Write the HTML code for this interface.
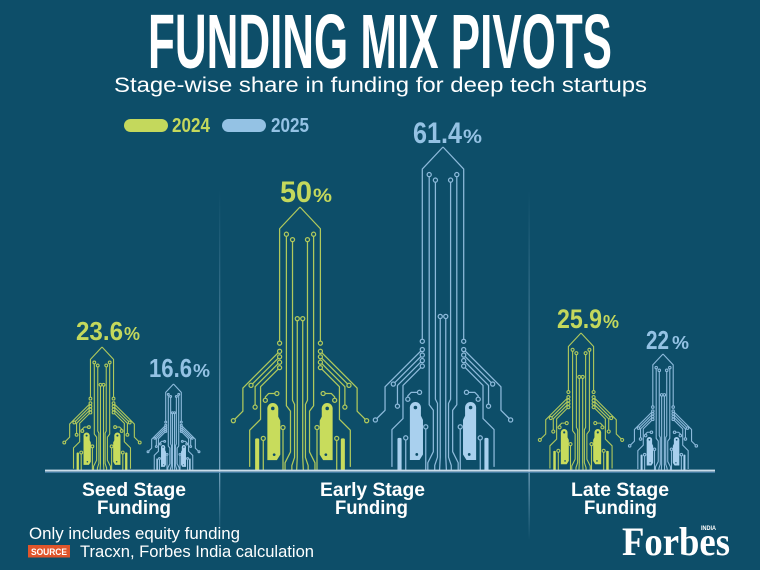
<!DOCTYPE html>
<html>
<head>
<meta charset="utf-8">
<style>
html,body{margin:0;padding:0;background:#0d4e69;}
svg{display:block;}
text{font-family:"Liberation Sans",sans-serif;}
</style>
</head>
<body>
<svg id="s" width="760" height="570" viewBox="0 0 760 570" xmlns="http://www.w3.org/2000/svg">
<defs>
<linearGradient id="dv" x1="0" y1="190" x2="0" y2="540" gradientUnits="userSpaceOnUse">
<stop offset="0" stop-color="#8cb6d2" stop-opacity="0"/>
<stop offset="0.8" stop-color="#9cc2dc" stop-opacity="0.75"/>
<stop offset="1" stop-color="#8cb6d2" stop-opacity="0"/>
</linearGradient>
</defs>
<rect width="760" height="570" fill="#0d4e69"/>

<!-- dividers -->
<rect x="219" y="190" width="1.3" height="350" fill="url(#dv)"/>
<rect x="528.5" y="190" width="1.3" height="350" fill="url(#dv)"/>

<!-- title -->
<text x="148" y="68" font-size="77" font-weight="bold" fill="#ffffff" textLength="464" lengthAdjust="spacingAndGlyphs">FUNDING MIX PIVOTS</text>
<text x="114" y="92" font-size="21.5" fill="#ffffff" textLength="533" lengthAdjust="spacingAndGlyphs">Stage-wise share in funding for deep tech startups</text>

<!-- legend -->
<rect x="124" y="119" width="44" height="13" rx="6.5" fill="#c4d85c"/>
<text x="172" y="132" font-size="20" font-weight="bold" fill="#c4d85c" textLength="38" lengthAdjust="spacingAndGlyphs">2024</text>
<rect x="222" y="119" width="44" height="13" rx="6.5" fill="#94c2e4"/>
<text x="271" y="132" font-size="20" font-weight="bold" fill="#94c2e4" textLength="38" lengthAdjust="spacingAndGlyphs">2025</text>

<g id="rockets"></g>

<!-- baseline -->
<rect x="45" y="469.6" width="670" height="2" fill="#cadcea"/>
<rect x="45" y="471.8" width="670" height="1" fill="#4f86b0"/>

<!-- value labels -->
<text x="76" y="340" font-size="26" font-weight="bold" fill="#c4d85c" textLength="47" lengthAdjust="spacingAndGlyphs">23.6</text>
<text x="124" y="340" font-size="18" font-weight="bold" fill="#c4d85c" textLength="16" lengthAdjust="spacingAndGlyphs">%</text>

<text x="149" y="377" font-size="26" font-weight="bold" fill="#94c2e4" textLength="43" lengthAdjust="spacingAndGlyphs">16.6</text>
<text x="193" y="377" font-size="18" font-weight="bold" fill="#94c2e4" textLength="17" lengthAdjust="spacingAndGlyphs">%</text>

<text x="280" y="202" font-size="30" font-weight="bold" fill="#c4d85c" textLength="32" lengthAdjust="spacingAndGlyphs">50</text>
<text x="313" y="202" font-size="19" font-weight="bold" fill="#c4d85c" textLength="19" lengthAdjust="spacingAndGlyphs">%</text>

<text x="413" y="143" font-size="30" font-weight="bold" fill="#94c2e4" textLength="49" lengthAdjust="spacingAndGlyphs">61.4</text>
<text x="463" y="143" font-size="19" font-weight="bold" fill="#94c2e4" textLength="19" lengthAdjust="spacingAndGlyphs">%</text>

<text x="557" y="328" font-size="27" font-weight="bold" fill="#c4d85c" textLength="45" lengthAdjust="spacingAndGlyphs">25.9</text>
<text x="603" y="328" font-size="18" font-weight="bold" fill="#c4d85c" textLength="16" lengthAdjust="spacingAndGlyphs">%</text>

<text x="646" y="349" font-size="26" font-weight="bold" fill="#94c2e4" textLength="23" lengthAdjust="spacingAndGlyphs">22</text>
<text x="672" y="349" font-size="18" font-weight="bold" fill="#94c2e4" textLength="17" lengthAdjust="spacingAndGlyphs">%</text>

<!-- category labels -->
<text x="82" y="496" font-size="19" font-weight="bold" fill="#ffffff" textLength="104" lengthAdjust="spacingAndGlyphs">Seed Stage</text>
<text x="97" y="514" font-size="19" font-weight="bold" fill="#ffffff" textLength="74" lengthAdjust="spacingAndGlyphs">Funding</text>
<text x="320" y="496" font-size="19" font-weight="bold" fill="#ffffff" textLength="105" lengthAdjust="spacingAndGlyphs">Early Stage</text>
<text x="335" y="514" font-size="19" font-weight="bold" fill="#ffffff" textLength="73" lengthAdjust="spacingAndGlyphs">Funding</text>
<text x="571" y="496" font-size="19" font-weight="bold" fill="#ffffff" textLength="98" lengthAdjust="spacingAndGlyphs">Late Stage</text>
<text x="584" y="514" font-size="19" font-weight="bold" fill="#ffffff" textLength="73" lengthAdjust="spacingAndGlyphs">Funding</text>

<!-- footnotes -->
<text x="29" y="539" font-size="16.5" fill="#ffffff" textLength="211" lengthAdjust="spacingAndGlyphs">Only includes equity funding</text>
<rect x="28" y="545" width="42" height="12.5" fill="#e0552b"/>
<text x="31" y="555" font-size="9" font-weight="bold" fill="#ffffff" textLength="36" lengthAdjust="spacingAndGlyphs">SOURCE</text>
<text x="80" y="557" font-size="16.5" fill="#ffffff" textLength="234" lengthAdjust="spacingAndGlyphs">Tracxn, Forbes India calculation</text>

<!-- logo -->
<text x="622" y="555" font-size="40" font-weight="bold" fill="#ffffff" style="font-family:'Liberation Serif',serif" textLength="108" lengthAdjust="spacingAndGlyphs">Forbes</text>
<text x="701" y="530" font-size="6.5" font-weight="bold" fill="#ffffff" textLength="15" lengthAdjust="spacingAndGlyphs">INDIA</text>
</svg>

<script>
(function(){
  var NS="http://www.w3.org/2000/svg";
  var BG="#0d4e69";
  var root=document.getElementById("rockets");
  function el(tag,attrs,parent){
    var e=document.createElementNS(NS,tag);
    for(var k in attrs) e.setAttribute(k,attrs[k]);
    parent.appendChild(e);
    return e;
  }
  function rocket(cx,tipY,W,lc,sc){
    var base=471, s=W/100, Hu=(base-tipY)/s, T=-Hu, B=T+16;
    var sw=(s>1?1.25:1.1)/s, r=(s>1?1.5:1.8);
    var g=el("g",{transform:"translate("+cx+","+base+") scale("+s+")"},root);
    var lines=[], circles=[];
    function L(pts,c0,c1){
      lines.push(pts);
      if(c0) circles.push(pts[0]);
      if(c1) circles.push(pts[pts.length-1]);
    }
    L([[0,T],[-15,B],[-15,-94]],0,1);
    L([[-10,B+4],[-10,-48],[-7,-44],[-7,-14],[-11,-6],[-11,0]],1,0);
    L([[-5.5,B+8],[-5.5,-52],[-4,-49],[-4,-10],[-6,-4],[-6,0]],1,0);
    L([[-2,-112],[-2,-10],[-2.5,0]],1,0);
    L([[-15,-88],[-42,-61],[-42,-44],[-49,-37]],1,1);
    L([[-15,-84],[-36,-63]],1,1);
    L([[-15,-80],[-33,-62],[-33,-47]],1,1);
    L([[-15,-76],[-29,-62],[-29,-38],[-37,-30],[-37,-3]],1,0);
    L([[-17,-57],[-23,-57],[-25.5,-54.5],[-25.5,-52]],1,1);
    L([[-12.5,-32],[-12.5,0]],1,0);
    L([[-27,-24],[-27,0]],1,0);

    function ptsStr(p,m){
      return p.map(function(q){return (q[0]*m)+","+q[1];}).join(" ");
    }
    lines.forEach(function(p){
      [1,-1].forEach(function(m){
        el("polyline",{points:ptsStr(p,m),fill:"none",stroke:lc,"stroke-width":sw,"stroke-linejoin":"round"},g);
      });
    });
    circles.forEach(function(c){
      [1,-1].forEach(function(m){
        el("circle",{cx:c[0]*m,cy:c[1],r:r,fill:BG,stroke:lc,"stroke-width":sw},g);
      });
    });
    [1,-1].forEach(function(m){
      var tank=[[-24,-46],[-16,-46],[-16,-40],[-14.5,-37],[-14.5,-12],[-17,-8],[-24,-8]];
      el("polygon",{points:ptsStr(tank,m),fill:sc},g);
      el("circle",{cx:-20*m,cy:-46,r:4,fill:sc},g);
      el("circle",{cx:-20*m,cy:-46,r:1.3,fill:BG},g);
      el("circle",{cx:-19*m,cy:-12,r:1,fill:BG},g);
      el("rect",{x:(m>0?-33:30),y:-24,width:3,height:24,rx:1,fill:sc},g);
    });
  }
  var GL="#b0c95c", GS="#c8dc5c", BL="#8dbadb", BS="#a9d0ee";
  rocket(102,347,77,GL,GS);
  rocket(173.5,384,52,BL,BS);
  rocket(300,207,136,GL,GS);
  rocket(443,147,138,BL,BS);
  rocket(581,333,84,GL,GS);
  rocket(663,354,68,BL,BS);
})();
</script>
</body>
</html>
